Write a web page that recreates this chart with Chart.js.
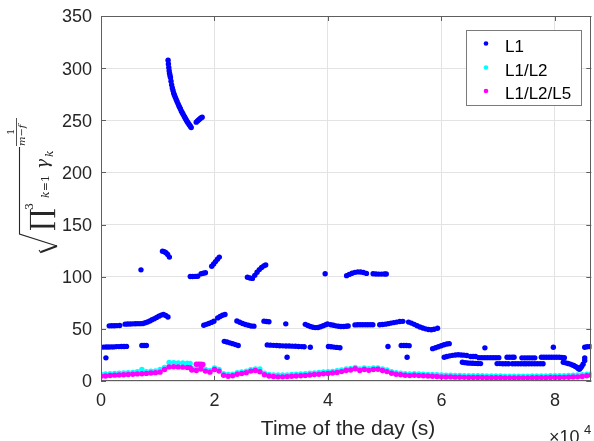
<!DOCTYPE html>
<html><head><meta charset="utf-8">
<script src="https://cdn.jsdelivr.net/npm/chart.js@4.4.1/dist/chart.umd.min.js"></script>
<style>html,body{margin:0;padding:0;background:#fff}canvas{display:block}</style>
</head><body><canvas id="c" width="594" height="441"></canvas>
<script>
// ---------- DATA ----------
const seriesNames = ['L1', 'L1/L2', 'L1/L2/L5'];
const xTickValues = [0, 20000, 40000, 60000, 80000];
const xTickLabels = ['0', '2', '4', '6', '8'];
const yTickLabels = ['0', '50', '100', '150', '200', '250', '300', '350'];

// time grid (s) shared by the L1/L2 and L1/L2/L5 series
const timeGrid = [
  0,800,1600,2400,3200,4000,4800,5600,6400,7200,
  8000,8800,9600,10400,11200,12000,12800,13600,14400,15200,
  16000,16800,17600,18400,19200,20000,20800,21600,22400,23200,
  24000,24800,25600,26400,27200,28000,28800,29600,30400,31200,
  32000,32800,33600,34400,35200,36000,36800,37600,38400,39200,
  40000,40800,41600,42400,43200,44000,44800,45600,46400,47200,
  48000,48800,49600,50400,51200,52000,52800,53600,54400,55200,
  56000,56800,57600,58400,59200,60000,60800,61600,62400,63200,
  64000,64800,65600,66400,67200,68000,68800,69600,70400,71200,
  72000,72800,73600,74400,75200,76000,76800,77600,78400,79200,
  80000,80800,81600,82400,83200,84000,84800,85600,86400
];
const l12Values = [
  6.3,6.8,7.0,7.3,7.5,7.8,8.0,8.2,9.0,11.0,
  9.0,9.3,9.6,11.0,13.0,17.8,17.6,17.4,17.2,17.0,
  12.0,11.8,13.0,11.0,10.0,12.5,11.0,7.0,6.2,6.6,
  8.0,8.7,9.5,10.8,11.5,11.5,7.5,6.3,5.9,5.7,
  5.7,5.9,6.2,6.5,6.7,7.0,7.4,7.8,8.1,8.6,
  8.8,9.2,9.8,10.5,11.5,12.0,13.0,11.6,12.4,11.8,
  12.4,12.6,11.5,10.5,9.0,8.0,7.5,7.0,6.8,7.0,
  6.8,6.6,6.4,6.2,6.0,5.7,5.6,5.5,5.4,5.3,
  5.2,5.1,5.1,5.0,5.0,4.9,4.9,4.8,4.8,4.7,
  4.7,4.7,4.7,4.7,4.7,4.8,4.8,4.9,4.9,5.0,
  5.0,5.1,5.2,5.3,5.5,5.7,6.0,6.6,7.0
];
const l125Values = [
  4.5,4.8,5.3,5.6,5.8,6.0,6.3,6.5,6.8,7.0,
  7.3,7.6,8.0,8.5,11.0,13.5,13.6,13.5,13.3,13.0,
  10.5,10.0,11.5,9.5,8.5,11.0,9.5,5.5,4.5,5.0,
  6.5,7.2,8.0,9.5,10.0,8.8,6.0,4.8,4.3,4.0,
  4.0,4.2,4.5,4.8,5.0,5.3,5.8,6.2,6.5,7.0,
  7.2,7.6,8.2,9.0,10.0,10.5,11.8,10.0,11.0,10.2,
  11.0,11.2,10.0,9.0,7.5,6.5,6.0,5.5,5.2,5.5,
  5.2,5.0,4.8,4.6,4.3,4.0,3.9,3.8,3.7,3.6,
  3.5,3.4,3.4,3.3,3.3,3.2,3.2,3.1,3.1,3.0,
  3.0,3.0,3.0,3.0,3.0,3.1,3.1,3.2,3.2,3.3,
  3.3,3.4,3.5,3.6,3.8,4.0,4.3,5.0,5.5
];
// extra samples [time, value]
const l12Extra = [[15700,16.9]];
const l125Extra = [[15700,12.8],[16800,16.0],[17200,16.2],[17600,16.0],[17950,15.8]];

// L1 samples [time, value]
const l1Points = [
  [0,32.5],[450,32.5],[900,32.6],[1350,32.6],[1800,32.7],[2250,32.7],[2700,33.0],[3150,33.0],[3600,33.1],[4050,33.1],[4500,33.2],
  [7200,34],[7600,34],[8000,34],
  [870,22.2],
  [1450,52.9],[1900,53.0],[2350,53.0],[2800,53.1],[3300,53.2],
  [4250,54.5],[4700,54.6],[5150,54.7],[5600,54.8],[6050,54.9],[6500,55.0],[6950,55.0],[7400,55.2],
  [7800,55.8],[8200,56.6],[8600,57.6],[9000,58.7],[9400,59.8],[9800,61.0],[10200,62.2],[10600,63.2],[11000,63.8],[11400,62.8],[11800,61.3],
  [7045,106.6],
  [10840,124.5],[11150,124],[11450,123],[11750,121.3],[12050,118.8],
  [11820,307.5],[11880,304],[11950,300.5],[12010,297.5],[12080,295],[12160,293],[12240,291],[12340,287.5],[12450,284],[12570,281],
  [12690,278.5],[12820,276],[12950,274],[13100,272],[13250,270],[13400,268],[13560,266],[13700,264.2],[13850,262.5],[14000,260.8],
  [14150,259],[14300,257.5],[14440,256],[14600,254.5],[14750,253],[14900,251.5],[15050,250],[15200,248.7],[15350,247.4],[15500,246.2],
  [15650,245],[15780,244],[15900,243],
  [16780,248.2],[17000,249.3],[17200,250.3],[17400,251.3],[17600,252.2],[17830,253],
  [15730,100.2],[16150,100.2],[16600,100.3],[17050,100.5],
  [17650,102.8],[18030,103.3],[18400,103.8],
  [19510,110],[19850,112.2],[20180,114.5],[20520,116.8],[20850,118.8],
  [18110,53.5],[18550,54.3],[19000,55.2],[19450,56.2],[19900,57.3],
  [20560,60.5],[20990,61.8],[21420,63],[21850,63.8],
  [21730,38.0],[22200,37.4],[22700,36.6],[23200,35.8],[23700,34.9],[24180,34.0],
  [23950,57.5],[24450,56.3],[24950,55.1],[25450,54.2],[25950,53.4],[26450,52.8],[26950,52.6],
  [25800,99.5],[26250,98.7],[26680,98.4],[27100,101.3],[27500,104.3],[27900,106.8],[28300,108.8],[28700,110.4],[29020,111.3],
  [28720,57.4],[29150,57.1],[29590,56.8],
  [29300,34.6],[29850,34.4],[30400,34.2],[30950,34.0],[31500,33.8],[32050,33.7],[32600,33.6],[33150,33.5],[33700,33.4],[34250,33.3],[34800,33.1],[35350,33.0],[35800,32.9],
  [36880,32.4],[32790,22.8],[32560,54.8],
  [36000,54.3],[36450,53.2],[36900,52.3],[37350,51.6],[37800,51.2],[38250,51.3],[38700,52],[39150,53],[39600,54],[39900,54.6],
  [40500,54.0],[40950,53.4],[41400,52.9],[41850,52.5],[42300,52.3],[42750,52.3],[43200,52.5],[43550,52.8],
  [44750,53.8],[45200,53.9],[45650,54],[46100,54],[46550,54],[47000,54],[47450,53.9],[47900,53.9],
  [49120,54],[49600,54.2],[50100,54.5],[50600,55],[51100,55.5],[51600,56],[52100,56.5],[52650,57],[53190,57.2],
  [54200,56.5],[54700,55.5],[55200,54.3],[55700,53.0],[56200,51.8],[56700,50.8],[57200,50.0],[57700,49.4],[58200,49.2],[58700,49.6],[59300,50.6],
  [39500,102.8],
  [43280,101],[43750,102.2],[44250,103.3],[44750,104.2],[45250,104.6],[45750,104.5],[46250,104],[46780,103.2],
  [47950,102.8],[48450,102.6],[48950,102.5],[49450,102.5],[49950,102.6],[50270,102.6],
  [40080,33.1],[40550,32.8],[41050,32.5],[41550,32.2],[42100,31.9],
  [50570,33.1],
  [52900,34],[53350,34],[53800,34],[54300,33.9],
  [53940,22.8],
  [58440,31],[58950,31.9],[59450,32.8],[59950,33.8],[60450,34.8],[60950,35.5],[61360,35.8],
  [60480,22.8],[60950,23.5],[61450,24.1],[61950,24.6],[62450,25],[62950,25.1],[63450,25],[63950,24.8],[64450,24.5],
  [65130,23.5],[65570,23.5],[66000,23.5],
  [66600,22.4],[67100,22.4],[67600,22.4],[68100,22.4],[68600,22.4],[69100,22.4],[69600,22.4],[70100,22.4],
  [63680,18],[64150,17.6],[64600,17.3],[65050,17.1],[65500,17],[65950,16.9],[66400,16.8],[66880,16.7],
  [69800,16.7],[70300,16.7],[70800,16.6],[71300,16.6],[71800,16.6],
  [72500,16.6],[73000,16.6],[73500,16.6],[74000,16.6],[74500,16.6],[74900,16.6],
  [75400,16.6],[75900,16.6],[76400,16.6],[76900,16.6],[77400,16.6],[77900,16.6],
  [71550,22.8],[72000,22.8],[72450,22.8],[72800,22.8],
  [74170,22.2],[74650,22.2],[75100,22.2],[75550,22.2],[76000,22.2],[76440,22.2],
  [77600,22.8],[78050,22.8],[78500,22.8],[78950,22.8],[79400,22.8],[79850,22.8],[80300,22.8],[80750,22.8],[81200,22.6],[81650,22.4],
  [67650,31.8],[79710,32.4],
  [81460,18.0],[81900,17.4],[82300,16.8],[82700,16.2],[83000,15.5],[83300,14.8],[83600,14.0],[83900,13.0],[84100,12.0],[84300,11.2],[84500,12.5],[84700,13.9],[84950,16],[85240,19.7],
  [85240,32.4],[85650,32.8],[86100,33],[86400,33],
  [85240,22.2]
];

// ---------- BUILD ----------
const toXY = arr => arr.map(p => ({x: p[0], y: p[1]}));
const l12Data = timeGrid.map((t, i) => ({x: t, y: l12Values[i]})).concat(toXY(l12Extra));
const l125Data = timeGrid.map((t, i) => ({x: t, y: l125Values[i]})).concat(toXY(l125Extra));
const colors = ['#0000ff', '#00ffff', '#ff00ff'];
const FONT = '"Liberation Sans", Arial, Helvetica, sans-serif';
const MATH = '"DejaVu Serif", "Liberation Serif", serif';
const AXC = '#262626';

function rt(ctx, text, px, py, font) {
  ctx.save();
  ctx.translate(px, py);
  ctx.rotate(-Math.PI / 2);
  ctx.font = font;
  ctx.textAlign = 'left';
  ctx.textBaseline = 'alphabetic';
  ctx.fillText(text, 0, 0);
  const w = ctx.measureText(text).width;
  ctx.restore();
  return w;
}

const decor = {
  id: 'decor',
  beforeDraw(chart) {
    const ctx = chart.ctx;
    ctx.save();
    ctx.fillStyle = '#fff';
    ctx.fillRect(0, 0, chart.width, chart.height);
    ctx.restore();
  },
  afterDraw(chart) {
    const ctx = chart.ctx;
    const a = chart.chartArea;
    const xs = chart.scales.x, ys = chart.scales.y;
    ctx.save();
    // box
    ctx.strokeStyle = '#5e5e5e';
    ctx.lineWidth = 1;
    ctx.beginPath();
    ctx.moveTo(Math.round(a.left) + 0.5, a.top);
    ctx.lineTo(Math.round(a.left) + 0.5, a.bottom);
    ctx.moveTo(a.left, Math.round(a.bottom) - 0.5);
    ctx.lineTo(a.right, Math.round(a.bottom) - 0.5);
    ctx.moveTo(a.left, Math.round(a.top) + 0.5);
    ctx.lineTo(a.right, Math.round(a.top) + 0.5);
    ctx.moveTo(Math.round(a.right) - 0.5, a.top);
    ctx.lineTo(Math.round(a.right) - 0.5, a.bottom);
    // inward ticks
    xs.ticks.forEach(t => {
      const p = Math.round(xs.getPixelForValue(t.value)) + 0.5;
      ctx.moveTo(p, a.bottom); ctx.lineTo(p, a.bottom - 5);
      ctx.moveTo(p, a.top); ctx.lineTo(p, a.top + 5);
    });
    ys.ticks.forEach(t => {
      const p = Math.round(ys.getPixelForValue(t.value)) + 0.5;
      ctx.moveTo(a.left, p); ctx.lineTo(a.left + 5, p);
      ctx.moveTo(a.right, p); ctx.lineTo(a.right - 5, p);
    });
    ctx.stroke();

    // x title and exponent
    ctx.fillStyle = AXC;
    ctx.font = '21px ' + FONT;
    ctx.textAlign = 'center';
    ctx.textBaseline = 'alphabetic';
    ctx.fillText('Time of the day (s)', 348, 435);
    ctx.textAlign = 'left';
    ctx.font = '18px ' + FONT;
    ctx.fillText('\u00d710', 549, 443);
    ctx.font = '13px ' + FONT;
    ctx.fillText('4', 584, 434);

    // y title (math, rotated)
    ctx.fillStyle = AXC;
    rt(ctx, '\u220F', 50, 231, '28px ' + MATH);
    rt(ctx, '3', 33, 210, '11px ' + MATH);
    let w = rt(ctx, 'k', 49, 198, 'italic 11px ' + MATH);
    rt(ctx, '=1', 49, 198 - w, '11px ' + MATH);
    rt(ctx, '\u03B3', 48, 169, 'italic 17px ' + MATH);
    rt(ctx, 'k', 53, 157, 'italic 11px ' + MATH);
    // radical
    ctx.strokeStyle = AXC;
    ctx.lineWidth = 1.1;
    ctx.beginPath();
    ctx.moveTo(41, 253); ctx.lineTo(39, 250);
    ctx.stroke();
    ctx.lineWidth = 2;
    ctx.beginPath();
    ctx.moveTo(41, 252); ctx.lineTo(57, 246);
    ctx.stroke();
    ctx.lineWidth = 1.1;
    ctx.beginPath();
    ctx.moveTo(57, 246); ctx.lineTo(19.5, 234);
    ctx.lineTo(19.5, 147);
    ctx.stroke();
    // exponent 1/(m-f)
    rt(ctx, '1', 14, 135, '10px ' + MATH);
    ctx.lineWidth = 0.8;
    ctx.beginPath();
    ctx.moveTo(16.5, 146); ctx.lineTo(16.5, 118);
    ctx.stroke();
    rt(ctx, 'm\u2212f', 25, 146, 'italic 10px ' + MATH);

    // legend
    const lx = 466.5, ly = 30.5, lw = 115, lh = 75;
    ctx.fillStyle = '#fff';
    ctx.fillRect(lx, ly, lw, lh);
    ctx.strokeStyle = '#7a7a7a';
    ctx.lineWidth = 1;
    ctx.strokeRect(lx, ly, lw, lh);
    const rows = [43.5, 67.5, 91];
    seriesNames.forEach((n, i) => {
      ctx.fillStyle = colors[i];
      ctx.beginPath();
      ctx.arc(486, rows[i], 2.3, 0, Math.PI * 2);
      ctx.fill();
      ctx.fillStyle = '#000';
      ctx.font = '17px ' + FONT;
      ctx.textAlign = 'left';
      ctx.fillText(n, 505, rows[i] + 8);
    });
    ctx.restore();
  }
};

const mk = (label, data, i, order) => ({
  label, data, order,
  backgroundColor: colors[i], borderColor: colors[i],
  pointRadius: 2.7, pointBorderWidth: 0, pointHoverRadius: 2.7, showLine: false
});

new Chart(document.getElementById('c'), {
  type: 'scatter',
  data: {
    datasets: [
      mk(seriesNames[0], toXY(l1Points), 0, 0),
      mk(seriesNames[1], l12Data, 1, 2),
      mk(seriesNames[2], l125Data, 2, 1)
    ]
  },
  options: {
    responsive: false,
    animation: false,
    devicePixelRatio: 1,
    layout: {padding: {top: 16, right: 0, bottom: 0, left: 0}},
    plugins: {legend: {display: false}, tooltip: {enabled: false}},
    scales: {
      x: {
        type: 'linear', min: 0, max: 86400, bounds: 'data',
        afterBuildTicks: s => { s.ticks = xTickValues.map(v => ({value: v})); },
        ticks: {
          maxRotation: 0, autoSkip: false,
          padding: 9, color: AXC, font: {family: FONT, size: 18},
          callback: (v, i) => xTickLabels[i]
        },
        grid: {color: '#e3e3e3', drawTicks: false, lineWidth: 1},
        border: {display: false},
        afterFit: s => { s.height = 60; s.paddingRight = 0; s.paddingLeft = 0; }
      },
      y: {
        min: 0, max: 350,
        ticks: {
          stepSize: 50, padding: 9, labelOffset: 1.5, color: AXC, font: {family: FONT, size: 18},
          callback: (v, i) => yTickLabels[i]
        },
        grid: {color: '#e3e3e3', drawTicks: false, lineWidth: 1},
        border: {display: false},
        afterFit: s => { s.width = 101; s.paddingTop = 0; s.paddingBottom = 0; }
      }
    }
  },
  plugins: [decor]
});
</script>
</body></html>
